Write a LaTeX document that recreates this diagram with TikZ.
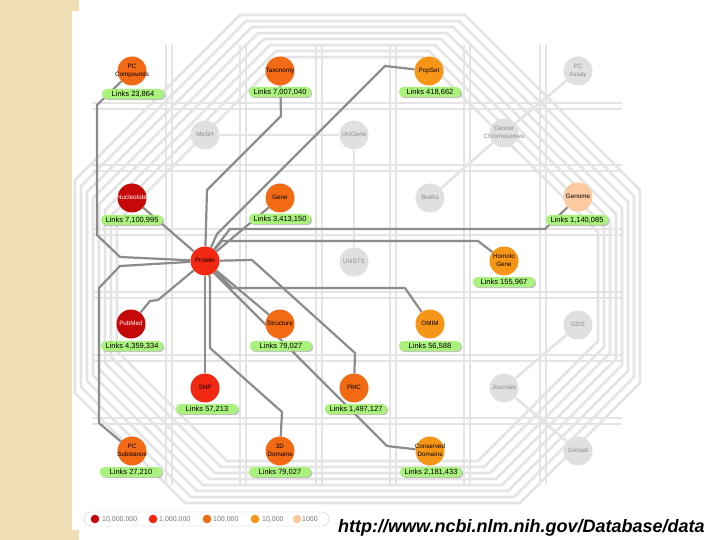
\documentclass[tikz,border=0pt]{standalone}
\usepackage{fontspec}
\setmainfont{Liberation Sans}
\usetikzlibrary{shadows}
\definecolor{beige}{RGB}{239,222,180}
\definecolor{lgrey}{RGB}{228,228,228}
\definecolor{dgrey}{RGB}{140,140,140}
\definecolor{cA}{RGB}{198,8,8}
\definecolor{cB}{RGB}{243,40,18}
\definecolor{cC}{RGB}{242,106,20}
\definecolor{cD}{RGB}{247,150,22}
\definecolor{cE}{RGB}{252,202,160}
\definecolor{dbgrey}{RGB}{224,224,224}
\definecolor{pillg}{RGB}{170,242,125}
\newcommand{\dbt}[1]{\makebox[0pt]{\begin{tabular}{@{}c@{}}#1\end{tabular}}}
\pgfdeclarelayer{back}
\pgfdeclarelayer{bg}
\pgfsetlayers{back,bg,main}
\begin{document}
\begin{tikzpicture}[x=1pt,y=-1pt,
  bgline/.style={draw=lgrey,line width=2.6pt,line join=round},
  link/.style={draw=dgrey,line width=2.2pt,line join=round},
  db/.style={circle,minimum size=29pt,inner sep=0pt,font=\fontsize{6.3}{8.5}\selectfont},
  gdb/.style={db,fill=dbgrey,text=black!45},
  pill/.style={rounded corners=4.5pt,fill=pillg,minimum width=62pt,minimum height=10pt,inner sep=0pt,
    font=\fontsize{7.5}{8}\selectfont,drop shadow={shadow xshift=1.2pt,shadow yshift=-1.2pt,fill=black!40,opacity=0.6}},
  lgdot/.style={circle,minimum size=8.6pt,inner sep=0pt},
  lgtext/.style={anchor=west,text=black!55,font=\fontsize{7}{8}\selectfont,inner sep=0pt}
]
\useasboundingbox (0,0) rectangle (720,540);
\begin{pgfonlayer}{back}
  \fill[white] (0,0) rectangle (720,540);
  \fill[beige] (0,0) rectangle (79,540);
  \fill[white] (72,11) rectangle (720,530);
\end{pgfonlayer}

% ---------- databases ----------
\node[db,fill=cC] (pcc) at (132,71) {\dbt{PC\\Compounds}};
\node[db,fill=cC] (tax) at (280,71) {\dbt{Taxonomy}};
\node[db,fill=cD] (pop) at (429,71) {\dbt{PopSet}};
\node[gdb] (pca) at (578,71) {\dbt{PC\\Assay}};
\node[gdb] (mesh) at (205,135) {\dbt{MeSH}};
\node[gdb] (unig) at (354,135) {\dbt{UniGene}};
\node[gdb] (cancer) at (504,133) {\dbt{Cancer\\Chromosomes}};
\node[db,fill=cA,text=white] (nuc) at (132,198) {\dbt{Nucleotide}};
\node[db,fill=cC] (gene) at (280,198) {\dbt{Gene}};
\node[gdb] (books) at (430,198) {\dbt{Books}};
\node[db,fill=cE] (genome) at (578,197) {\dbt{Genome}};
\node[db,fill=cB] (prot) at (205,261) {\dbt{Protein}};
\node[gdb] (unists) at (354,262) {\dbt{UniSTS}};
\node[db,fill=cD] (homo) at (504,261) {\dbt{Homolo\\Gene}};
\node[db,fill=cA,text=white] (pubmed) at (131,324) {\dbt{PubMed}};
\node[db,fill=cC] (struct) at (280,324) {\dbt{Structure}};
\node[db,fill=cD] (omim) at (430,324) {\dbt{OMIM}};
\node[gdb] (gds) at (578,325) {\dbt{GDS}};
\node[db,fill=cB] (snp) at (205,388) {\dbt{SNP}};
\node[db,fill=cC] (pmc) at (354,388) {\dbt{PMC}};
\node[gdb] (journals) at (504,388) {\dbt{Journals}};
\node[db,fill=cC] (pcs) at (132,451) {\dbt{PC\\Substance}};
\node[db,fill=cC] (d3) at (280,451) {\dbt{3D\\Domains}};
\node[db,fill=cD] (cdd) at (430,451) {\dbt{Conserved\\Domains}};
\node[gdb] (gensat) at (578,451) {\dbt{Gensat}};

% ---------- link counts ----------
\node[pill] (pccL) at (133,94) {Links 23,864};
\node[pill] (taxL) at (280,92) {Links 7,007,040};
\node[pill] (popL) at (430,92) {Links 418,662};
\node[pill] (nucL) at (132,220) {Links 7,100,995};
\node[pill] (geneL) at (280,219) {Links 3,413,150};
\node[pill] (genomeL) at (577,220) {Links 1,140,085};
\node[pill] (homoL) at (504,282) {Links 155,967};
\node[pill] (pubmedL) at (132,346) {Links 4,359,334};
\node[pill] (structL) at (281,346) {Links 79,027};
\node[pill] (omimL) at (430,346) {Links 56,588};
\node[pill] (snpL) at (207,409) {Links 57,213};
\node[pill] (pmcL) at (356,409) {Links 1,497,127};
\node[pill] (pcsL) at (131,472) {Links 27,210};
\node[pill] (d3L) at (280,472) {Links 79,027};
\node[pill] (cddL) at (431,472) {Links 2,181,433};

% ---------- legend ----------
\node[draw=black!20,fill=white,rounded corners=7pt,minimum width=245pt,minimum height=14pt,inner sep=0pt] (legend) at (206.5,519) {};
\node[lgdot,fill=cA] (lg1) at (95,519) {};
\node[lgtext] (lt1) at (102,519.5) {10,000,000};
\node[lgdot,fill=cB] (lg2) at (153,519) {};
\node[lgtext] (lt2) at (159,519.5) {1,000,000};
\node[lgdot,fill=cC] (lg3) at (207,519) {};
\node[lgtext] (lt3) at (213,519.5) {100,000};
\node[lgdot,fill=cD] (lg4) at (255,519) {};
\node[lgtext] (lt4) at (262,519.5) {10,000};
\node[lgdot,fill=cE] (lg5) at (297,519) {};
\node[lgtext] (lt5) at (302,519.5) {1000};

\node[anchor=base west,inner sep=0pt,font=\fontsize{18}{18}\selectfont\bfseries\itshape] (url) at (338,532) {http://www.ncbi.nlm.nih.gov/Database/data};

% ---------- background routes ----------
\begin{pgfonlayer}{bg}
  \foreach \i in {0,...,7}{
    \pgfmathsetmacro{\L}{75+6*\i}
    \pgfmathsetmacro{\R}{640-6*\i}
    \pgfmathsetmacro{\T}{15+6*\i}
    \pgfmathsetmacro{\B}{503-6*\i}
    \draw[bgline] ({\L+165},\T) -- ({\R-175},\T) -- (\R,{\T+175}) -- (\R,{\B-120}) -- ({\R-120},\B)
       -- ({\L+110},\B) -- (\L,{\B-110}) -- (\L,{\T+165}) -- cycle;
  }
  \foreach \x in {166,172,240,246,316,322,390,396,464,470,540,546}{
    \draw[bgline] (\x,45) -- (\x,485);
  }
  \foreach \y in {103,109,165,171,229,235,292,298,355,361,418,424}{
    \draw[bgline] (92,\y) -- (622,\y);
  }
  \draw[bgline] (pca) -- (cancer) -- (books);
  \draw[bgline] (mesh) -- (unig);
  \draw[bgline] (unig) -- (unists);
  \draw[bgline] (gds) -- (journals) -- (gensat);

% ---------- protein links ----------
  \draw[link] (pcc) -- (97,105) -- (97,235) -- (120,257) -- (prot);
  \draw[link] (nuc) -- (prot);
  \draw[link] (pubmed) -- (150,301) -- (158,300) -- (prot);
  \draw[link] (pcs) -- (99,423) -- (99,288) -- (120,266) -- (prot);
  \draw[link] (tax) -- (281,116) -- (207,190) -- (prot);
  \draw[link] (pop) -- (385,66) -- (217,234) -- (prot);
  \draw[link] (gene) -- (prot);
  \draw[link] (genome) -- (545,229) -- (230,229) -- (prot);
  \draw[link] (homo) -- (478,241) -- (222,241) -- (prot);
  \draw[link] (pmc) -- (355,353) -- (252,260) -- (prot);
  \draw[link] (omim) -- (405,288) -- (232,288) -- (prot);
  \draw[link] (struct) -- (prot);
  \draw[link] (prot) -- (snp);
  \draw[link] (prot) -- (210,278) -- (210,348) -- (282,412) -- (d3);
  \draw[link] (prot) -- (214,273) -- (387,446) -- (cdd);
\end{pgfonlayer}
\end{tikzpicture}
\end{document}
